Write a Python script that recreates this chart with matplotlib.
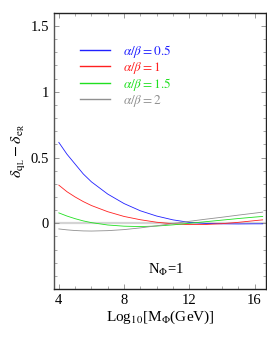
import numpy as np
import matplotlib
matplotlib.use('Agg')
import matplotlib.pyplot as plt
from matplotlib.ticker import MultipleLocator

plt.rcParams['font.family'] = 'Liberation Serif'
plt.rcParams['mathtext.fontset'] = 'stix'

# log10 of M_Phi
logm = [4, 4.5, 5, 5.5, 6, 7, 8, 9, 10, 11, 12, 13, 14, 15, 16, 16.5]
# delta_qL - delta_eR for each alpha/beta
d_05 = [0.615, 0.525, 0.45, 0.375, 0.315, 0.222, 0.15, 0.095, 0.055, 0.026, 0.007, -0.001, -0.004, -0.005, -0.004, -0.004]
d_10 = [0.29, 0.24, 0.20, 0.165, 0.135, 0.088, 0.052, 0.027, 0.008, -0.004, -0.01, -0.009, -0.003, 0.007, 0.02, 0.026]
d_15 = [0.079, 0.055, 0.035, 0.018, 0.005, -0.013, -0.022, -0.025, -0.021, -0.012, 0.0, 0.012, 0.024, 0.036, 0.047, 0.052]
d_20 = [-0.043, -0.05, -0.055, -0.058, -0.059, -0.056, -0.048, -0.035, -0.019, -0.002, 0.015, 0.031, 0.046, 0.062, 0.077, 0.085]

labels = [r'$\alpha/\beta = 0.5$', r'$\alpha/\beta = 1$', r'$\alpha/\beta = 1.5$', r'$\alpha/\beta = 2$']
colors = ['#2020ff', '#ff2020', '#20e020', '#909090']

fig = plt.figure(figsize=(2.67, 3.47), dpi=100)
ax = fig.add_axes([0.202, 0.167, 0.794, 0.796])

ax.axhline(0, color='#d4d4d4', lw=1.6, zorder=1)
for d, c, lab in zip([d_05, d_10, d_15, d_20], colors, labels):
    ax.plot(logm, d, color=c, lw=0.6, label=lab, zorder=2)

ax.set_xlim(3.7, 16.7)
ax.set_ylim(-0.5, 1.6)
ax.xaxis.set_major_locator(MultipleLocator(4))
ax.xaxis.set_minor_locator(MultipleLocator(1))
ax.yaxis.set_minor_locator(MultipleLocator(0.1))
ax.set_yticks([0, 0.5, 1, 1.5])
ax.set_yticklabels(['0', '0.5', '1', '1.5'])
ax.tick_params(which='both', direction='in', top=True, right=True, color='#888888', labelsize=10.5)
ax.tick_params(which='major', length=3.5, width=0.6)
ax.tick_params(which='minor', length=2, width=0.5)
for s in ax.spines.values():
    s.set_linewidth(1.0)
    s.set_color('#222222')
ax.spines['left'].set_color('#555555')

ax.set_xlabel(r'Log$_{10}$[M$_{\Phi}$(GeV)]', fontsize=11, labelpad=1)
ax.set_ylabel(r'$\delta_{\mathrm{q_L}} - \delta_{\mathrm{e_R}}$', fontsize=11.5, labelpad=2)

leg = ax.legend(loc='upper left', bbox_to_anchor=(0.065, 0.935), frameon=False,
                fontsize=9.5, handlelength=2.3, handletextpad=1.0, labelspacing=0.0)
for t, h, c in zip(leg.get_texts(), leg.get_lines(), colors):
    t.set_color(c)
    h.set_linewidth(1.0)

ax.text(0.53, 0.055, r'N$_{\Phi}$=1', transform=ax.transAxes, ha='center', fontsize=10.5)

fig.savefig('out.png', dpi=100)
